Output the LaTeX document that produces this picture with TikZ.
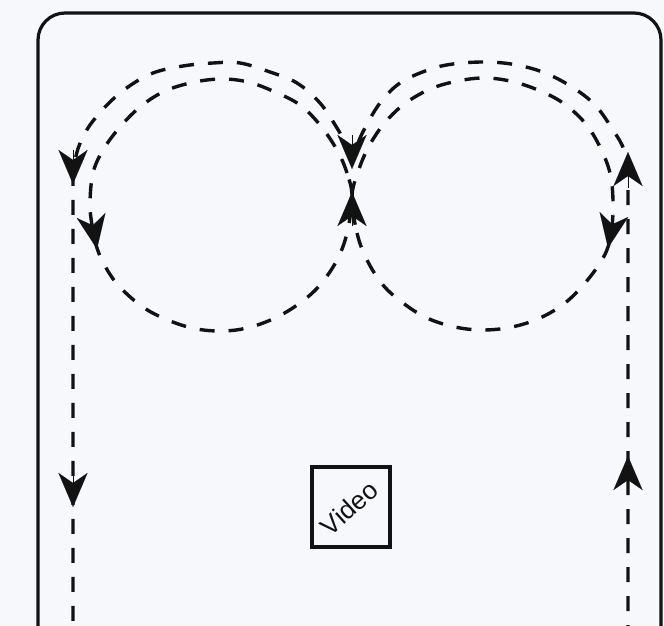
\documentclass[tikz,border=0pt]{standalone}
\usepackage{fontspec}
\setmainfont{Liberation Sans}
\usetikzlibrary{arrows.meta}
\definecolor{paper}{RGB}{246,248,251}
\definecolor{ink}{RGB}{18,18,18}
\begin{document}
\begin{tikzpicture}[x=1pt,y=-1pt,
  route/.style={draw=ink, line width=3.4pt, dash pattern=on 15pt off 14pt},
  tipstyle/.style={draw=ink, fill=ink, line width=0.1pt, -{Stealth[length=34pt,width=29pt,inset=10pt]}},
  frame/.style={draw=ink, line width=3.2pt, rounded corners=27pt},
  boxstyle/.style={draw=ink, line width=3.2pt, minimum width=78pt, minimum height=80pt, inner sep=0pt}]
\useasboundingbox (0,0) rectangle (664,626);
\fill[paper] (0,0) rectangle (664,626);
\clip (0,0) rectangle (664,626);
% frame
\draw[frame] (38,700) -- (38,13) -- (661,13) -- (661,700);
% left outer path
\draw[route] plot[smooth, tension=0.6] coordinates {(352,160) (345,143) (337,128) (320,103) (297,83) (270,72) (240,63) (213,63) (183,66) (153,73) (128,87) (107,105) (88,128) (77,152) (73,180)} -- (73,640);
% right outer path
\draw[route] (628,640) -- plot[smooth, tension=0.6] coordinates {(628,175) (624,150) (613,130) (595,105) (572,87) (545,73) (517,65) (487,62) (453,64) (428,70) (400,83) (380,103) (365,128) (358,143) (352,160)};
% left inner loop
\draw[route] plot[smooth cycle, tension=0.6] coordinates {(352,197) (347,173) (337,150) (320,125) (300,105) (275,92) (248,82) (220,79) (190,83) (163,92) (140,107) (120,127) (103,150) (93,173) (90,203) (92,225) (97,248) (105,266) (118,285) (140,305) (163,318) (192,328) (220,331) (247,328) (275,318) (300,303) (320,285) (337,260) (347,233)};
% right inner loop
\draw[route] plot[smooth cycle, tension=0.6] coordinates {(352,197) (357,233) (367,260) (383,285) (403,303) (427,318) (455,327) (483,330) (512,327) (540,318) (565,303) (585,283) (600,263) (608,247) (612,227) (613,200) (610,173) (600,147) (585,123) (563,103) (538,90) (510,81) (482,78) (453,82) (428,90) (403,105) (383,125) (368,148) (358,172)};
% arrowheads
\coordinate (a1b) at (73,150);  \coordinate (a1t) at (73,184);
\coordinate (a2b) at (73,473);  \coordinate (a2t) at (73,507);
\coordinate (a3b) at (352,135); \coordinate (a3t) at (352,169);
\coordinate (a4b) at (352,226); \coordinate (a4t) at (352,192);
\coordinate (a5b) at (91,215);  \coordinate (a5t) at (97,249);
\coordinate (a6b) at (614,214); \coordinate (a6t) at (608,248);
\coordinate (a7b) at (628,188); \coordinate (a7t) at (628,152);
\coordinate (a8b) at (628,490); \coordinate (a8t) at (628,456);
\foreach \i in {1,...,8} {\draw[tipstyle] (a\i b) -- (a\i t);}
% video box
\node[boxstyle] (video) at (351,507) {};
\node[rotate=42, text=ink, font=\fontsize{26}{26}\selectfont, inner sep=0pt] (videolabel) at (349,508) {Video};
\end{tikzpicture}
\end{document}
